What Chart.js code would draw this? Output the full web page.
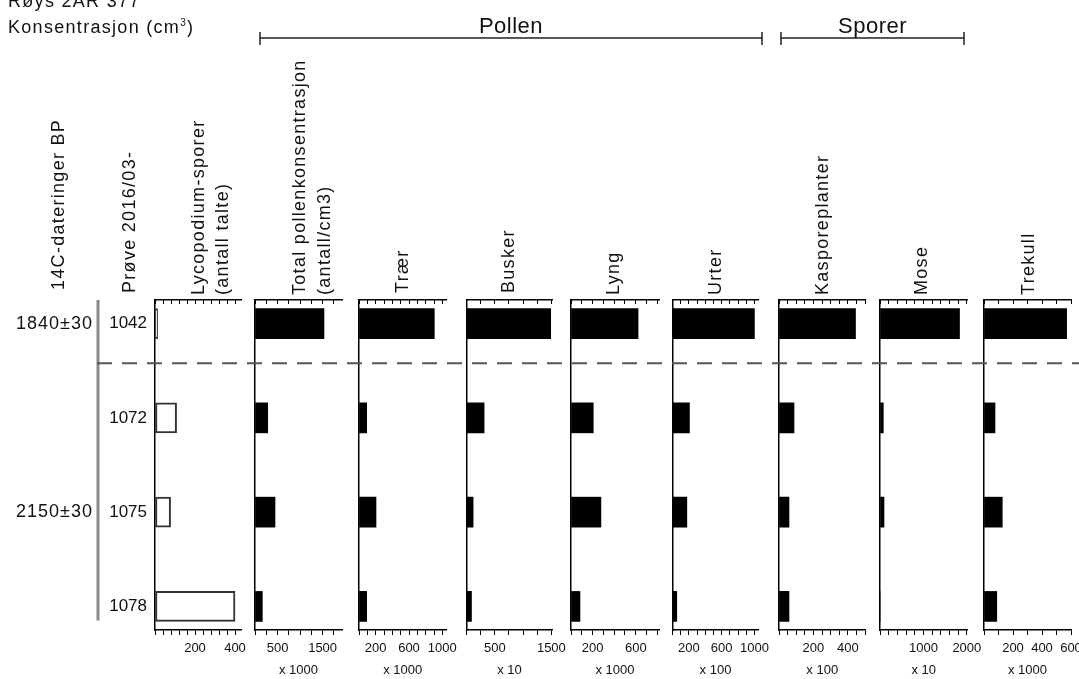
<!DOCTYPE html>
<html>
<head>
<meta charset="utf-8">
<script src="https://cdn.jsdelivr.net/npm/chart.js@4.4.0/dist/chart.umd.min.js"></script>
<style>
  body { margin: 0; background: #fff; }
  #wrap { position: relative; width: 1079px; height: 679px; overflow: hidden;
          font-family: "Liberation Sans", Arial, sans-serif; color: #111; }
  #wrap canvas { position: absolute; left: 0; top: 0; }
  .txt { position: absolute; white-space: nowrap; font-size: 18px; line-height: 18px; letter-spacing: 1.3px; }
  .rot { position: absolute; white-space: nowrap; font-size: 18px; line-height: 18px; letter-spacing: 1.3px;
         transform: rotate(-90deg); transform-origin: 0 0; }
  sup { font-size: 10px; line-height: 0; }
</style>
</head>
<body>
<div id="wrap"><div class="txt" style="left:8px; top:-8px;">Røys 2AR 377</div><div class="txt" style="left:8px; top:18px;">Konsentrasjon (cm<sup>3</sup>)</div></div>
<script>
// prøver (dybde-rekkefølge) og dateringer
var samples = ["1042", "1072", "1075", "1078"];
var depth = [1, 2, 3, 4];
var dates = ["1840±30", "", "2150±30", ""];
var zoneBoundary = 1.42;

// verdier lest av diagrammet
var lycopodium     = [13, 108, 78, 400];
var totalPollen    = [1530, 282, 444, 163];
var traer          = [904, 92, 204, 92];
var busker         = [1488, 311, 117, 88];
var lyng           = [621, 206, 277, 83];
var urter          = [1000, 207, 175, 52];
var kasporeplanter = [444, 87, 58, 58];
var mose           = [1831, 76, 92, 0];
var trekull        = [570, 76, 126, 88];

// tick labels for hver kolonne
var lycoTicks   = [200, 400];
var totalTicks  = [500, 1500];
var traerTicks  = [200, 600, 1000];
var buskerTicks = [500, 1500];
var lyngTicks   = [200, 600];
var urterTicks  = [200, 600, 1000];
var kaspTicks   = [200, 400];
var moseTicks   = [1000, 2000];
var trekTicks   = [200, 400, 600];

var W = 1079, H = 679;
var plotTop = 300;
var labelCol = 60;  // bredde på prøve-kolonnen til venstre for første panel

Chart.defaults.font.family = "'Liberation Sans', Arial, sans-serif";
Chart.defaults.color = "#111";

var panels = [
  {values: lycopodium,     ticks: lycoTicks,   unit: "",       left: 155,   right: 241,   max: 430,  step: 40,  hollow: true},
  {values: totalPollen,    ticks: totalTicks,  unit: "x 1000", left: 255,   right: 342,   max: 1930, step: 250},
  {values: traer,          ticks: traerTicks,  unit: "x 1000", left: 359,   right: 446.5, max: 1050, step: 100},
  {values: busker,         ticks: buskerTicks, unit: "x 10",   left: 466.5, right: 552.5, max: 1520, step: 250},
  {values: lyng,           ticks: lyngTicks,   unit: "x 1000", left: 571,   right: 659,   max: 815,  step: 100},
  {values: urter,          ticks: urterTicks,  unit: "x 100",  left: 672.5, right: 758.5, max: 1050, step: 100},
  {values: kasporeplanter, ticks: kaspTicks,   unit: "x 100",  left: 779,   right: 865.5, max: 502,  step: 50},
  {values: mose,           ticks: moseTicks,   unit: "x 10",   left: 880,   right: 967.5, max: 2015, step: 200},
  {values: trekull,        ticks: trekTicks,   unit: "x 1000", left: 984,   right: 1071,  max: 600,  step: 100}
];

var headers = [
  ["14C-dateringer BP", 58, 290],
  ["Prøve 2016/03-", 129, 293],
  ["Lycopodium-sporer", 198, 295],
  ["(antall talte)", 222, 295],
  ["Total pollenkonsentrasjon", 299, 295],
  ["(antall/cm3)", 324, 295],
  ["Trær", 402, 293],
  ["Busker", 508, 293],
  ["Lyng", 613, 295],
  ["Urter", 715, 295],
  ["Kasporeplanter", 822, 295],
  ["Mose", 921, 295],
  ["Trekull", 1028, 295]
];

var groups = [
  {text: "Pollen", from: 260, to: 762},
  {text: "Sporer", from: 781, to: 964}
];

var wrap = document.getElementById("wrap");

headers.forEach(function(h){
  var d = document.createElement("div");
  d.className = "rot";
  d.textContent = h[0];
  d.style.left = (h[1] - 9) + "px";
  d.style.top = h[2] + "px";
  wrap.appendChild(d);
});

// grå dybdelinje, sonegrense, dateringer og gruppeklammer
var decor = {
  id: "decor",
  afterDraw: function(chart){
    var ctx = chart.ctx, y = chart.scales.y;
    ctx.save();
    ctx.strokeStyle = "#8a8a8a";
    ctx.lineWidth = 3;
    ctx.beginPath();
    ctx.moveTo(98, y.getPixelForValue(0.75));
    ctx.lineTo(98, y.getPixelForValue(4.15));
    ctx.stroke();

    var zy = y.getPixelForValue(zoneBoundary);
    ctx.strokeStyle = "#555";
    ctx.lineWidth = 2;
    ctx.setLineDash([15, 10]);
    ctx.beginPath();
    ctx.moveTo(97, zy);
    ctx.lineTo(W, zy);
    ctx.stroke();
    ctx.setLineDash([]);

    ctx.fillStyle = "#111";
    ctx.font = "18px 'Liberation Sans', Arial";
    if ("letterSpacing" in ctx) ctx.letterSpacing = "1px";
    ctx.textAlign = "right";
    ctx.textBaseline = "middle";
    dates.forEach(function(t, i){
      if (t) ctx.fillText(t, 93, y.getPixelForValue(depth[i]));
    });

    ctx.strokeStyle = "#222";
    ctx.lineWidth = 1.5;
    ctx.font = "22px 'Liberation Sans', Arial";
    if ("letterSpacing" in ctx) ctx.letterSpacing = "0.5px";
    ctx.textAlign = "center";
    ctx.textBaseline = "alphabetic";
    groups.forEach(function(g){
      ctx.beginPath();
      ctx.moveTo(g.from, 38); ctx.lineTo(g.to, 38);
      ctx.moveTo(g.from, 32); ctx.lineTo(g.from, 45);
      ctx.moveTo(g.to, 32); ctx.lineTo(g.to, 45);
      ctx.stroke();
      ctx.fillText(g.text, (g.from + g.to) / 2, 33);
    });
    ctx.restore();
  }
};

// faste tick-steg (Chart.js justerer ellers steget når max er nær et helt antall steg)
function stepTicks(p){
  return function(s){
    var t = [];
    for (var v = 0; v <= p.max; v += p.step) t.push({value: v});
    s.ticks = t;
  };
}

panels.forEach(function(p, i){
  var cv = document.createElement("canvas");
  cv.width = W;
  cv.height = H;
  wrap.insertBefore(cv, wrap.firstChild);

  var pts = depth.map(function(d, k){ return {x: p.values[k], y: d}; });
  var yW = i === 0 ? labelCol : 0;

  new Chart(cv, {
    type: "bar",
    data: {
      datasets: [{
        data: pts,
        xAxisID: "x",
        yAxisID: "y",
        backgroundColor: p.hollow ? "#fff" : "#000",
        borderColor: "#333",
        borderWidth: p.hollow ? 2 : 0,
        borderSkipped: false,
        barThickness: 30
      }]
    },
    options: {
      indexAxis: "y",
      responsive: false,
      animation: false,
      devicePixelRatio: 1,
      layout: { padding: { left: p.left - yW, right: W - p.right, top: plotTop, bottom: 0 } },
      plugins: { legend: { display: false }, tooltip: { enabled: false } },
      scales: {
        x: {
          type: "linear", position: "bottom", min: 0, max: p.max,
          afterBuildTicks: stepTicks(p),
          ticks: {
            autoSkip: false, maxRotation: 0,
            padding: 6, font: { size: 13 }, color: "#111",
            callback: function(v){ return p.ticks.indexOf(v) >= 0 ? String(v) : ""; }
          },
          grid: { drawOnChartArea: false, drawTicks: true, tickLength: 5, color: "#000", lineWidth: 1 },
          border: { display: true, color: "#000", width: 1.5 },
          title: { display: !!p.unit, text: p.unit, font: { size: 13 }, color: "#111", padding: { top: 0, bottom: 1 } },
          afterFit: function(s){ s.height = 49; s.paddingLeft = 0; s.paddingRight = 0; }
        },
        x2: {
          type: "linear", axis: "x", position: "top", min: 0, max: p.max,
          afterBuildTicks: stepTicks(p),
          ticks: { display: false },
          grid: { drawOnChartArea: false, drawTicks: true, tickLength: -4, color: "#000", lineWidth: 1 },
          border: { display: true, color: "#000", width: 1.5 },
          afterFit: function(s){ s.height = 0; s.paddingLeft = 0; s.paddingRight = 0; }
        },
        y: {
          type: "linear", position: "left", min: 0.75, max: 4.25, reverse: true, offset: false,
          afterBuildTicks: function(s){ s.ticks = depth.map(function(d){ return {value: d}; }); },
          ticks: {
            display: i === 0, autoSkip: false, padding: 8, font: { size: 17 }, color: "#111",
            callback: function(v){ return samples[depth.indexOf(v)]; }
          },
          grid: { display: false, drawTicks: false, offset: false },
          border: { display: true, color: "#000", width: 1.5 },
          afterFit: function(s){ s.width = yW; }
        }
      }
    },
    plugins: i === 0 ? [decor] : []
  });
});
</script>
</body>
</html>
